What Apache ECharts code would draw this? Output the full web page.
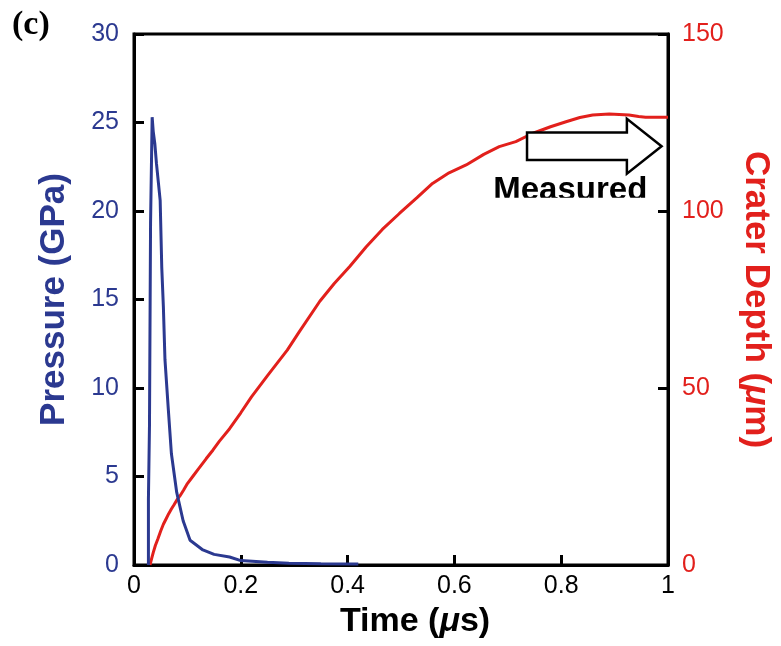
<!DOCTYPE html>
<html>
<head>
<meta charset="utf-8">
<script src="https://cdn.jsdelivr.net/npm/echarts@6/dist/echarts.min.js"></script>
<style>
  html, body { margin: 0; padding: 0; background: #fff; }
  #chart { width: 781px; height: 646px; }
</style>
</head>
<body>
<div id="chart"></div>
<script>
// ---- data ----
// Pressure (GPa) vs time (µs)
const pressureTime = [0.027, 0.027, 0.029, 0.029, 0.031, 0.031, 0.033, 0.034, 0.035, 0.036, 0.039, 0.042, 0.046, 0.049, 0.052, 0.055, 0.058, 0.064, 0.070, 0.080, 0.092, 0.105, 0.129, 0.150, 0.179, 0.200, 0.250, 0.290, 0.350, 0.420];
const pressureValue = [0, 3.7, 3.7, 7.9, 7.9, 19.3, 19.3, 25.3, 25.3, 24.5, 23.8, 22.7, 21.5, 20.6, 16.8, 14.6, 11.6, 8.9, 6.3, 4.1, 2.5, 1.4, 0.85, 0.6, 0.45, 0.25, 0.15, 0.1, 0.07, 0.05];
// Crater depth (µm) vs time (µs)
const depthTime = [0.030, 0.033, 0.036, 0.040, 0.045, 0.050, 0.055, 0.060, 0.065, 0.070, 0.075, 0.080, 0.086, 0.093, 0.100, 0.110, 0.120, 0.135, 0.148, 0.160, 0.179, 0.200, 0.220, 0.250, 0.287, 0.310, 0.348, 0.375, 0.404, 0.435, 0.465, 0.497, 0.530, 0.559, 0.590, 0.622, 0.655, 0.684, 0.715, 0.746, 0.780, 0.809, 0.835, 0.859, 0.890, 0.927, 0.945, 0.958, 1.000];
const depthValue = [0, 1.8, 3.5, 5.5, 7.5, 9.6, 11.5, 13, 14.5, 15.8, 17, 18.3, 19.5, 21.2, 23, 25, 27, 30, 32.5, 35, 38.5, 43, 47.5, 53.5, 60.7, 66, 74.5, 79.5, 84.3, 89.9, 94.8, 99.3, 103.8, 107.8, 110.8, 113, 116, 118.2, 119.6, 121.9, 123.8, 125.2, 126.4, 127.1, 127.4, 127.1, 126.7, 126.5, 126.5];
// "Measured" arrow annotation: measured depth (µm) and time span of arrow (µs)
const measuredDepth = 118.3;
const measuredArrowT = [0.736, 0.923, 0.988]; // tail, head base, tip
const measuredLabelT = 0.817;
// tick settings
const xTicks = { min: 0, max: 1, interval: 0.2 };
const pTicks = { min: 0, max: 30, interval: 5 };
const dTicks = { min: 0, max: 150, interval: 50 };

const BLUE = '#2B3990';
const RED = '#E2201C';
const FONT = '"Liberation Sans", Arial, Helvetica, sans-serif';

const pressureData = pressureTime.map((t, i) => [t, pressureValue[i]]);
const depthData = depthTime.map((t, i) => [t, depthValue[i]]);

const chart = echarts.init(document.getElementById('chart'), null, { renderer: 'canvas' });

const axisLine = { show: true, lineStyle: { color: '#000', width: 3 } };
const axisTick = { show: true, inside: true, length: 10, lineStyle: { color: '#000', width: 3 } };

chart.setOption({
  backgroundColor: '#fff',
  animation: false,
  grid: { left: 134, right: 112, top: 34, bottom: 81, show: true, borderColor: '#000', borderWidth: 3, containLabel: false },
  xAxis: [{
    type: 'value', min: xTicks.min, max: xTicks.max, interval: xTicks.interval,
    axisLine, axisTick, splitLine: { show: false },
    axisLabel: { color: '#000', fontSize: 25, fontFamily: FONT, margin: 9 },
    name: 'Time ({it|μ}s)', nameLocation: 'middle', nameGap: 40,
    nameTextStyle: {
      color: '#000', fontSize: 34, fontWeight: 'bold', fontFamily: FONT, padding: [0, 0, 0, 28],
      rich: { it: { color: '#000', fontSize: 34, fontWeight: 'bold', fontStyle: 'italic', fontFamily: FONT } }
    }
  }],
  yAxis: [{
    type: 'value', min: pTicks.min, max: pTicks.max, interval: pTicks.interval, position: 'left',
    axisLine, axisTick, splitLine: { show: false },
    axisLabel: { color: BLUE, fontSize: 25, fontFamily: FONT, margin: 15 },
    name: 'Pressure (GPa)', nameLocation: 'middle', nameGap: 62,
    nameTextStyle: { color: BLUE, fontSize: 35, fontWeight: 'bold', fontFamily: FONT }
  }, {
    type: 'value', min: dTicks.min, max: dTicks.max, interval: dTicks.interval, position: 'right',
    axisLine, axisTick, splitLine: { show: false },
    axisLabel: { color: RED, fontSize: 25, fontFamily: FONT, margin: 14 },
    name: 'Crater Depth ({it|μ}m)', nameLocation: 'middle', nameGap: 70, nameRotate: -90,
    nameTextStyle: {
      color: RED, fontSize: 35, fontWeight: 'bold', fontFamily: FONT,
      rich: { it: { color: RED, fontSize: 35, fontWeight: 'bold', fontStyle: 'italic', fontFamily: FONT } }
    }
  }],
  series: [{
    name: 'Crater Depth', type: 'line', yAxisIndex: 1, data: depthData,
    showSymbol: false, symbol: 'none', smooth: false,
    lineStyle: { color: RED, width: 3 }, z: 2
  }, {
    name: 'Pressure', type: 'line', yAxisIndex: 0, data: pressureData,
    showSymbol: false, symbol: 'none', smooth: false,
    lineStyle: { color: BLUE, width: 3 }, z: 3
  }]
});

// Arrow annotation, positioned through the chart's own scales
const px = (t, d) => chart.convertToPixel({ xAxisIndex: 0, yAxisIndex: 1 }, [t, d]);
const tail = px(measuredArrowT[0], measuredDepth);
const base = px(measuredArrowT[1], measuredDepth);
const tip = px(measuredArrowT[2], measuredDepth);
const bodyHalf = 13.7, headHalf = 27.5;
const cy = tail[1];
const labelPos = px(measuredLabelT, measuredDepth);
const labelTop = cy + headHalf + 1;

chart.setOption({
  graphic: [{
    type: 'polygon', z: 10,
    shape: { points: [
      [tail[0], cy - bodyHalf], [base[0], cy - bodyHalf], [base[0], cy - headHalf],
      [tip[0], cy], [base[0], cy + headHalf], [base[0], cy + bodyHalf], [tail[0], cy + bodyHalf]
    ] },
    style: { fill: '#fff', stroke: '#000', lineWidth: 2.5 }
  }, {
    type: 'text', z: 10,
    x: labelPos[0], y: labelTop,
    style: { text: 'Measured', fill: '#000', font: 'bold 33px ' + FONT, textAlign: 'center', textVerticalAlign: 'top' }
  }, {
    // the reference crops the bottom of the "Measured" label
    type: 'rect', z: 11,
    shape: { x: labelPos[0] - 90, y: labelTop + 23, width: 180, height: 10 },
    style: { fill: '#fff' }
  }, {
    type: 'text', z: 10, left: 12, top: 8,
    style: { text: '(c)', fill: '#000', font: 'bold 34px "Liberation Serif", "Times New Roman", serif' }
  }]
});
</script>
</body>
</html>
